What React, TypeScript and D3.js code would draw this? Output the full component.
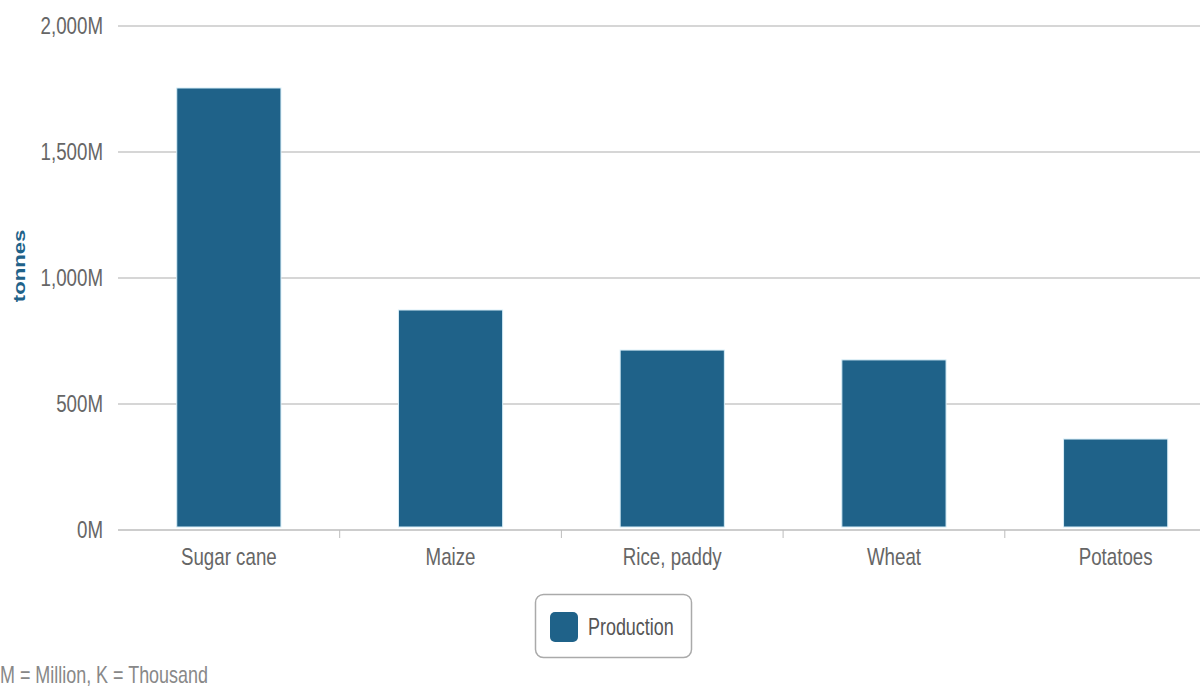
import React from "react";
import * as d3 from "d3";

const categories = ["Sugar cane", "Maize", "Rice, paddy", "Wheat", "Potatoes"];
const production = [1754, 873, 714, 675, 361]; // million tonnes
const yTicks = [0, 500, 1000, 1500, 2000];
const seriesName = "Production";
const yAxisTitle = "tonnes";
const footnote = "M = Million, K = Thousand";

const W = 1200;
const H = 686;
const FONT = "'Liberation Sans', Arial, sans-serif";
const BAR = "#1f6289";
const TEXT = "#666666";
const SX = 0.78;

function Label(props: {
  x: number;
  y: number;
  anchor?: "start" | "middle" | "end";
  size: number;
  fill: string;
  children: React.ReactNode;
}) {
  return (
    <text
      transform={`translate(${props.x},${props.y}) scale(${SX},1)`}
      textAnchor={props.anchor || "start"}
      fontFamily={FONT}
      fontSize={props.size}
      fill={props.fill}
    >
      {props.children}
    </text>
  );
}

export default function App() {
  const left = 118;
  const bandW = 221.7;
  const x = d3
    .scaleBand<string>()
    .domain(categories)
    .range([left, left + bandW * categories.length])
    .paddingInner(0.53)
    .paddingOuter(0.265);
  const y = d3.scaleLinear().domain([0, 2000]).range([530, 26]);
  const fmt = (v: number) => d3.format(",")(v) + "M";

  return (
    <div style={{ position: "fixed", left: 0, top: 0, width: W, height: H, overflow: "hidden" }}>
      <svg width={W} height={H} style={{ display: "block", background: "#fff" }}>
        {yTicks.map((t) => (
          <g key={t}>
            <line
              x1={left}
              x2={W}
              y1={y(t)}
              y2={y(t)}
              stroke={t === 0 ? "#bdbdbd" : "#c8c8c8"}
              strokeWidth={1.5}
            />
            <Label x={103} y={y(t) + 8} anchor="end" size={24} fill={TEXT}>
              {fmt(t)}
            </Label>
          </g>
        ))}
        {categories.slice(1).map((c) => (
          <line
            key={"tick" + c}
            x1={x(c)! - (x.step() * x.paddingInner()) / 2}
            x2={x(c)! - (x.step() * x.paddingInner()) / 2}
            y1={530}
            y2={538}
            stroke="#bdbdbd"
            strokeWidth={1}
          />
        ))}
        {categories.map((c, i) => (
          <g key={c}>
            <rect
              x={x(c)!}
              y={y(production[i])}
              width={x.bandwidth()}
              height={y(0) - 3 - y(production[i])}
              fill={BAR}
              stroke="#d8eef8"
              strokeWidth={1}
            />
            <Label x={x(c)! + x.bandwidth() / 2} y={565} anchor="middle" size={24} fill={TEXT}>
              {c}
            </Label>
          </g>
        ))}
        <text
          transform={`translate(25, 266) rotate(-90) scale(1.3,1)`}
          textAnchor="middle"
          fontFamily={FONT}
          fontWeight="bold"
          fontSize={17}
          fill={BAR}
        >
          {yAxisTitle}
        </text>
        <g>
          <rect x={535.5} y={594.5} width={156} height={63} rx={8} fill="#fff" stroke="#aaaaaa" strokeWidth={1.5} />
          <rect x={550} y={612} width={28} height={30} rx={5} fill={BAR} />
          <Label x={588} y={635} size={23} fill="#555">
            {seriesName}
          </Label>
        </g>
        <Label x={0} y={683} size={23} fill="#888">
          {footnote}
        </Label>
      </svg>
    </div>
  );
}
